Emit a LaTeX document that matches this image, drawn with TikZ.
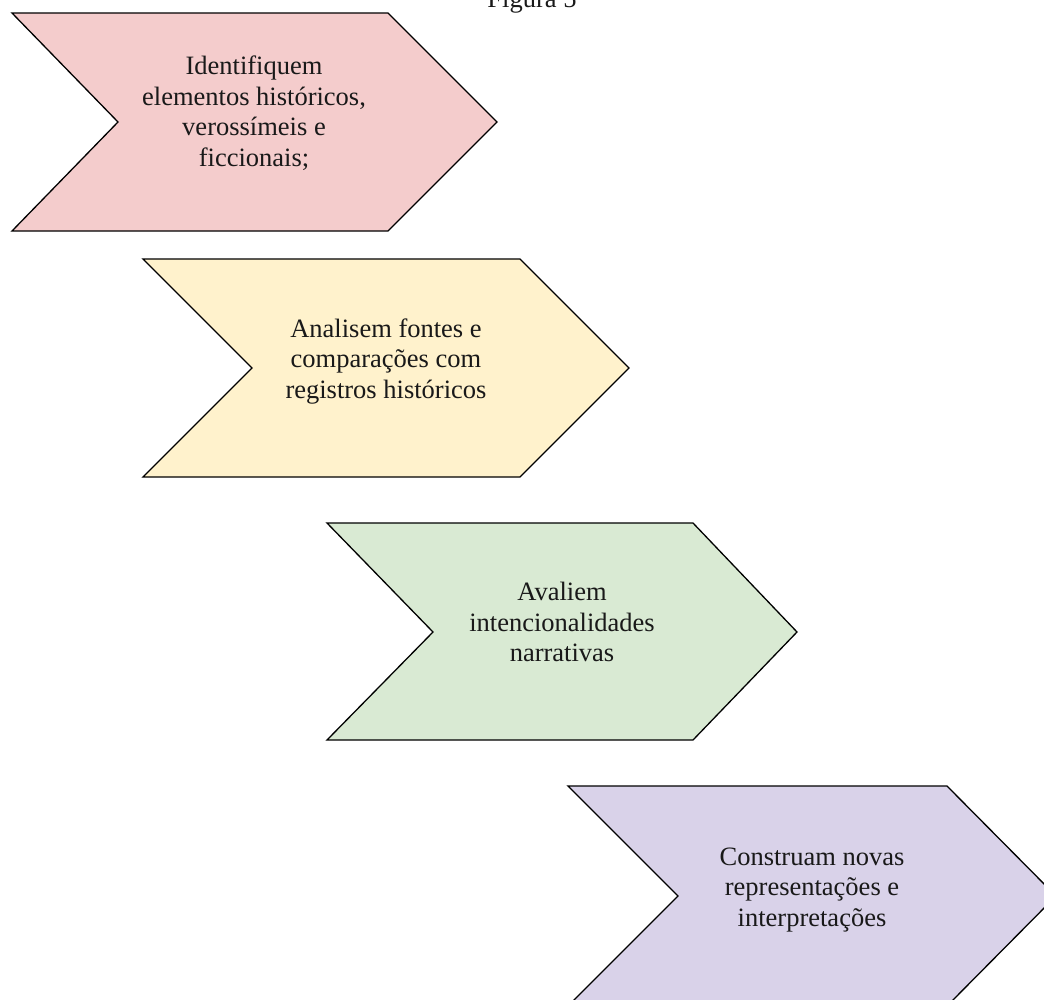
\documentclass[tikz,border=0pt]{standalone}
\usepackage{fontspec}
\setmainfont{Liberation Serif}
\definecolor{cpink}{HTML}{F4CCCC}
\definecolor{cyellow}{HTML}{FFF2CC}
\definecolor{cgreen}{HTML}{D9EAD3}
\definecolor{cpurple}{HTML}{D9D2E9}
\begin{document}
\begin{tikzpicture}[x=1pt,y=-1pt,
  chev/.style={draw=black, line width=1.3pt, line join=miter},
  lbl/.style={font=\fontsize{26.5}{30.5}\selectfont, align=center, inner sep=0pt, text=black!90}]
\useasboundingbox (0,0) rectangle (1044,999);
\clip (0,0) rectangle (1044,999);
\fill[white] (0,0) rectangle (1044,999);
% title
\node[lbl, anchor=base] (title) at (532,7) {Figura 5};
% chevron 1
\path[chev, fill=cpink] (12,13) -- (388,13) -- (497,122) -- (388,231) -- (12,231) -- (118,122) -- cycle;
\node[lbl] (t1) at (254,113) {Identifiquem\\elementos históricos,\\verossímeis e\\ficcionais;};
% chevron 2
\path[chev, fill=cyellow] (143,259) -- (520,259) -- (629,368) -- (520,477) -- (143,477) -- (252,368) -- cycle;
\node[lbl] (t2) at (386,361.5) {Analisem fontes e\\comparações com\\registros históricos};
% chevron 3
\path[chev, fill=cgreen] (327,523) -- (693,523) -- (797,632) -- (693,740) -- (327,740) -- (433,632) -- cycle;
\node[lbl] (t3) at (562,622) {Avaliem\\intencionalidades\\narrativas};
% chevron 4
\path[chev, fill=cpurple] (568,786) -- (947,786) -- (1056,896) -- (947,1006) -- (568,1006) -- (678,896) -- cycle;
\node[lbl] (t4) at (812,890) {Construam novas\\representações e\\interpretações};
\end{tikzpicture}
\end{document}
